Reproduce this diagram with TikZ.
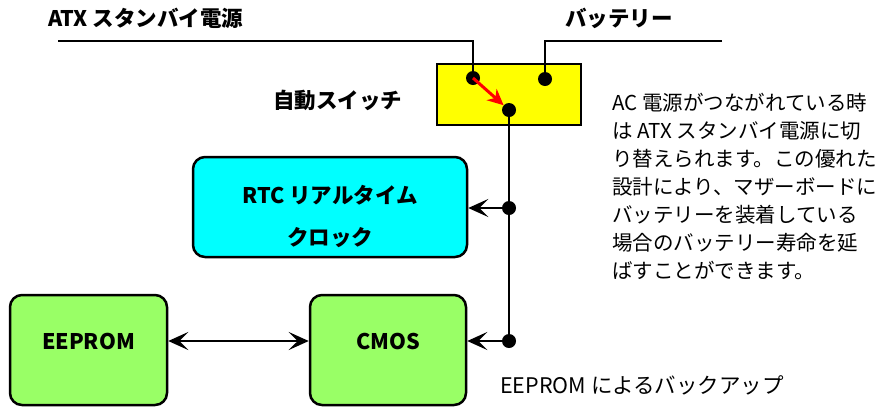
\documentclass[tikz,border=0pt]{standalone}
\usepackage{fontspec}
\setmainfont{Noto Sans CJK JP}
\usetikzlibrary{arrows.meta}
\definecolor{swyellow}{RGB}{255,255,0}
\definecolor{rtccyan}{RGB}{0,255,255}
\definecolor{memgreen}{RGB}{153,255,102}
\tikzset{
    wire/.style = {line width=2.5pt},
    tip/.tip = {Stealth[length=20pt, width=18pt, inset=9pt]},
    feed/.style = {line width=2.5pt, -tip},
    junction/.style = {circle, fill=black, inner sep=0pt, minimum size=14pt},
    block/.style = {draw, line width=2.5pt, rounded corners=12pt, inner sep=0pt},
    tag/.style = {font=\fontsize{21.5}{24}\selectfont\bfseries, inner sep=0pt}
}
\begin{document}
\begin{tikzpicture}[x=1pt, y=-1pt]
            \useasboundingbox (0,0) rectangle (890,408);
            % labels
            \node[tag, anchor=west] (atxlbl) at (48,18) {ATX スタンバイ電源};
            \node[tag, anchor=west] (batlbl) at (565,18) {バッテリー};
            \node[tag, anchor=west] (swlbl) at (273,100) {自動スイッチ};
            % switch
            \node[draw, line width=2.5pt, fill=swyellow, minimum width=144pt, minimum height=61pt,
                inner sep=0pt] (swbox) at (509,94.5) {};
            \node[junction] (atx) at (473,78) {};
            \node[junction] (bat) at (545,79) {};
            \node[junction] (sw) at (509,110) {};
            \coordinate (atxend) at (58,41);
            \coordinate (batend) at (722,41);
            \draw[wire] (atxend) -| (atx);
            \draw[wire] (batend) -| (bat);
            \draw[
                line width = 3pt,
                draw = red,
                -{Stealth[length=16pt, width=15pt, inset=5pt]}
            ]
            (atx.center) -- (sw);
            % blocks
            \node[block, fill=rtccyan, minimum width=274pt, minimum height=100pt,
                label={[align=center, font=\fontsize{21.5}{42}\selectfont\bfseries, yshift=-9pt]center:RTC リアルタイム\\クロック}]
                (rtc) at (330,207) {};
            \node[block, fill=memgreen, minimum width=157pt, minimum height=110pt,
                label={[font=\fontsize{21.5}{24}\selectfont\bfseries, yshift=9pt]center:EEPROM}]
                (eeprom) at (88.5,350) {};
            \node[block, fill=memgreen, minimum width=156pt, minimum height=110pt,
                label={[font=\fontsize{21.5}{24}\selectfont\bfseries, yshift=9pt]center:CMOS}]
                (cmos) at (388,350) {};
            \node[junction] (rtcj) at (509,208) {};
            \node[junction] (cmosj) at (509,341) {};
            \draw[wire] (sw) -- (cmosj);
            \draw[feed] (rtcj) -- (rtc.east |- rtcj);
            \draw[feed] (cmosj) -- (cmos.east |- cmosj);
            \draw[line width=2.5pt, tip-tip] ([yshift=9pt]eeprom.east) -- ([yshift=9pt]cmos.west);
            % notes
            \node[anchor=north west, align=left, inner sep=0pt, font=\fontsize{20.5}{28}\selectfont]
                (note) at (612,93) {AC 電源がつながれている時\\は ATX スタンバイ電源に切\\り替えられます。この優れた\\設計により、マザーボードに\\バッテリーを装着している\\場合のバッテリー寿命を延\\ばすことができます。};
            \node[anchor=west, inner sep=0pt, font=\fontsize{21.5}{24}\selectfont]
                (backup) at (500,385) {EEPROM によるバックアップ};
        \end{tikzpicture}
\end{document}
